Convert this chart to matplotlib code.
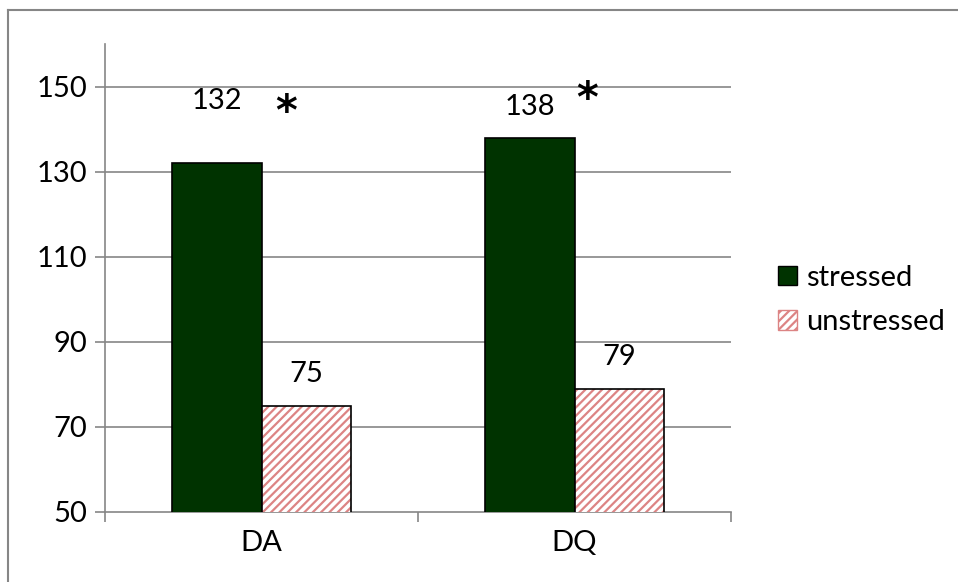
import matplotlib.pyplot as plt
from matplotlib.lines import Line2D
from matplotlib.patches import Patch
import numpy as np

plt.rcParams['font.family'] = ['Lato', 'DejaVu Sans']
plt.rcParams['hatch.linewidth'] = 1.6

categories = ["DA", "DQ"]
stressed = [132, 138]
unstressed = [75, 79]
y_ticks = [50, 70, 90, 110, 130, 150]

green = "#003300"
pink = "#dc8484"
gray = "#868686"
fs = 21

fig = plt.figure(figsize=(9.58, 5.82), dpi=100)
ax = fig.add_axes([105 / 958, 1 - 512 / 582, (731 - 105) / 958, (512 - 44) / 582])

x = np.arange(len(categories))
w = 0.287

ax.bar(x - w / 2, stressed, w, color=green, edgecolor="black",
       linewidth=1.2, zorder=3)
# hatch layer, then black outline on top
ax.bar(x + w / 2, unstressed, w, color="white", edgecolor=pink, hatch="////",
       linewidth=0, zorder=3)
ax.bar(x + w / 2, unstressed, w, color="none", edgecolor="black",
       linewidth=1.2, zorder=4)

ax.set_ylim(50, 160)
ax.set_xlim(-0.5, len(categories) - 0.5)
ax.set_yticks(y_ticks)
ax.set_xticks(x)
ax.set_xticklabels(categories)
ax.set_xticks(np.arange(len(categories) + 1) - 0.5, minor=True)

ax.tick_params(axis="y", length=7, width=1.2, color=gray, labelsize=fs, pad=6)
ax.tick_params(axis="x", which="major", length=0, labelsize=fs, pad=13)
ax.tick_params(axis="x", which="minor", length=7, width=1.2, color=gray)

for s in ["top", "right"]:
    ax.spines[s].set_visible(False)
for s in ["left", "bottom"]:
    ax.spines[s].set_color(gray)
    ax.spines[s].set_linewidth(1.2)

for t in y_ticks[1:]:
    ax.axhline(t, color=gray, linewidth=1.2, zorder=1)

# value labels
offsets_s = [45, 22]
for i, v in enumerate(stressed):
    ax.annotate(str(v), (x[i] - w / 2, v), xytext=(0, offsets_s[i]),
                textcoords="offset points", ha="center", va="center", fontsize=fs)
for i, v in enumerate(unstressed):
    ax.annotate(str(v), (x[i] + w / 2, v), xytext=(0, 23),
                textcoords="offset points", ha="center", va="center", fontsize=fs)

# significance asterisks
ax.text(0.08, 143.8, "*", ha="center", va="center", fontsize=30, fontweight="bold",
        family="DejaVu Sans")
ax.text(1.04, 146.8, "*", ha="center", va="center", fontsize=30, fontweight="bold",
        family="DejaVu Sans")

handles = [Patch(facecolor=green, edgecolor="black"),
           Patch(facecolor="white", edgecolor=pink, hatch="////")]
leg = fig.legend(handles, ["stressed", "unstressed"], loc="center left",
                 bbox_to_anchor=(752 / 958, 1 - 300 / 582), frameon=False,
                 fontsize=fs, handlelength=0.65, handleheight=0.65,
                 handletextpad=0.3, labelspacing=0.65)

# outer chart border
fig.add_artist(Line2D([8 / 958, 8 / 958], [0, 1 - 10 / 582], color=gray, linewidth=1.5))
fig.add_artist(Line2D([8 / 958, 1], [1 - 10 / 582, 1 - 10 / 582], color=gray, linewidth=1.5))

fig.savefig("out.png", dpi=100)
